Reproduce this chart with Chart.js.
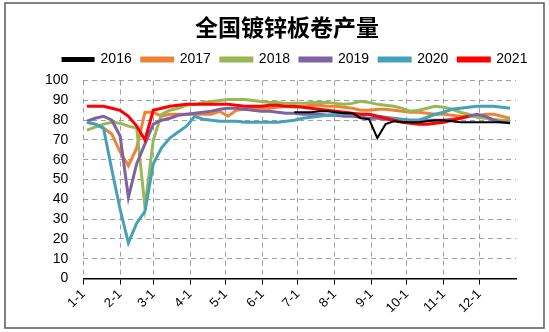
<!DOCTYPE html>
<html>
<head>
<meta charset="utf-8">
<script src="https://cdn.jsdelivr.net/npm/chart.js@4/dist/chart.umd.min.js"></script>
<style>
  html, body { margin: 0; padding: 0; background: #fff; }
  #wrap { width: 549px; height: 332px; position: relative; }
</style>
</head>
<body>
<div id="wrap"><canvas id="zincChart" width="549" height="332"></canvas></div>
<script>
// 周度数据，x 为一年中的第几天
var weekDay = [3, 10, 17, 24, 31, 38, 45, 52, 59, 66, 73, 80, 87, 94, 101, 108, 115, 122, 129, 136,
  143, 150, 157, 164, 171, 178, 185, 192, 199, 206, 213, 220, 227, 234, 241, 248, 255, 262, 269, 276,
  283, 290, 297, 304, 311, 318, 325, 332, 339, 346, 353, 360];

var monthStart = [0, 31, 59, 90, 120, 151, 181, 212, 243, 273, 304, 334];
var monthLabels = ["1-1", "2-1", "3-1", "4-1", "5-1", "6-1", "7-1", "8-1", "9-1", "10-1", "11-1", "12-1"];

var years = ["2016", "2017", "2018", "2019", "2020", "2021"];
var colors = ["#000000", "#EE8336", "#97B954", "#7E62A1", "#45A0BA", "#FF0000"];

var y2016 = [null, null, null, null, null, null, null, null, null, null,
  null, null, null, null, null, null, null, null, null, null,
  null, null, null, null, null, 84, 84, 84, 84.5, 84.5,
  84, 83.5, 83.5, 81, 80.5, 71, 78, 79.5, 79, 79,
  79, 79.5, 80, 80, 79.5, 79, 79, 79, 79, 79,
  79, 78.5];
var y2017 = [79, 78, 76, 73, 64, 57, 66, 84, 84, 82,
  83, 83, 83, 83, 83, 83, 84.5, 82, 85, 85.5,
  86, 86, 86, 86.5, 87, 86.5, 87, 87.5, 87.5, 87,
  87, 86.5, 86, 85, 85, 85.5, 85.5, 85, 84.5, 84,
  84, 83.5, 83, 83, 82.5, 82, 82, 82, 83, 83,
  82, 81];
var y2018 = [75, 76.5, 78, 79, 78.5, 77, 76, 36, 70, 83,
  85, 86, 87.5, 88, 89, 89.5, 90, 90.5, 90.5, 90.5,
  90, 89.5, 89, 89, 88.5, 88.5, 88.5, 89, 89, 89,
  88.5, 88, 88.5, 89.5, 89, 88, 87.5, 87, 86, 84.5,
  85, 86, 87, 86.5, 85.5, 84, 83, 81.5, 81, 80.5,
  80, 80];
var y2019 = [79.5, 81, 82, 80, 72, 41, 58, 68, 78, 80,
  81, 82.5, 83, 83.5, 84, 84.5, 85.5, 86, 86, 85.5,
  85, 84.5, 84.5, 84, 83.5, 83.5, 83, 83, 83, 82.5,
  82.5, 82, 82, 81.5, 81, 81, 80.5, 80, 80, 80,
  80, 80, 80, 80, 80.5, 81, 82, 83, 82, 80,
  79, 79];
var y2020 = [79, 78, 76, 55, 35, 18, 28, 34, 58, 66,
  71, 74, 77, 82, 80.5, 80, 79.5, 79.5, 79.5, 79,
  79, 79, 79, 79, 79.5, 80, 81, 81.5, 82, 82.5,
  83, 83, 83, 83, 83, 82, 81.5, 81, 80.5, 80,
  80, 81.5, 83, 84, 85.5, 86, 86.5, 87, 87, 87,
  86.5, 86];
var y2021 = [87, 87, 87, 86, 85, 82, 77, 70, 85, 86,
  87, 87.5, 88, 88, 88, 88, 88, 88, 87.5, 87,
  87, 87, 87.5, 87.5, 87, 87, 86.5, 86, 85.5, 85,
  84.5, 84, 83.5, 83, 83, 82, 81, 80, 79, 78.5,
  78, 78, 78.5, 79, 80, 81, 82, null, null, null,
  null, null];

var series = [y2016, y2017, y2018, y2019, y2020, y2021];
// 绘制顺序：黑线最上，其次红线
var drawOrder = [0, 5, 4, 3, 2, 1];

function toPoints(values) {
  var pts = [];
  for (var i = 0; i < weekDay.length; i++) {
    pts.push({ x: weekDay[i], y: values[i] });
  }
  return pts;
}

var datasets = [];
for (var k = 0; k < years.length; k++) {
  datasets.push({
    label: years[k],
    data: toPoints(series[k]),
    borderColor: colors[k],
    backgroundColor: colors[k],
    borderWidth: k == 0 ? 2 : 3,
    pointRadius: 0,
    tension: 0,
    fill: false,
    order: drawOrder[k],
  });
}

var framePlugin = {
  id: "frame",
  beforeDraw: function (chart) {
    var c = chart.ctx;
    c.save();
    c.fillStyle = "#fff";
    c.fillRect(0, 0, chart.width, chart.height);
    c.restore();
  },
  // 标题和图例略向右移，居中于绘图区；图例稍上移
  afterLayout: function (chart) {
    chart.legend.left += 22;
    chart.legend.right += 22;
    chart.legend.top -= 4;
    chart.legend.bottom -= 4;
    chart.titleBlock.left += 14;
    chart.titleBlock.right += 14;
  },
  afterDraw: function (chart) {
    var c = chart.ctx;
    c.save();
    c.strokeStyle = "#5a5a5a";
    c.lineWidth = 1.5;
    c.strokeRect(5, 3, 539, 325);
    c.restore();
  },
};

var ctx = document.getElementById("zincChart").getContext("2d");
var zincChart = new Chart(ctx, {
  type: "line",
  data: { datasets: datasets },
  options: {
    responsive: false,
    animation: false,
    layout: { padding: { left: 30, right: 33, top: 13, bottom: 14 } },
    plugins: {
      title: {
        display: true,
        text: "全国镀锌板卷产量",
        color: "#000",
        font: { family: "Noto Sans CJK SC", size: 23, weight: "bold" },
        padding: { top: 0, bottom: 6 },
      },
      legend: {
        display: true,
        labels: {
          boxWidth: 31,
          boxHeight: 3,
          padding: 10,
          color: "#000",
          font: { family: "Liberation Sans", size: 14 },
          sort: function (a, b) { return a.datasetIndex - b.datasetIndex; },
        },
      },
      tooltip: { enabled: false },
    },
    scales: {
      x: {
        type: "linear",
        min: 0,
        max: 365,
        afterBuildTicks: function (scale) {
          scale.ticks = monthStart.map(function (v) { return { value: v }; });
        },
        ticks: {
          minRotation: 45,
          maxRotation: 45,
          autoSkip: false,
          color: "#000",
          padding: 2,
          font: { family: "Liberation Sans", size: 13 },
          callback: function (v) { return monthLabels[monthStart.indexOf(v)]; },
        },
        grid: {
          color: "#a0a0a0",
          lineWidth: 1,
          tickLength: 6,
          tickColor: "#000",
          tickBorderDash: [],
        },
        border: { display: true, color: "#000", width: 1.5, dash: [5, 4] },
      },
      y: {
        min: 0,
        max: 100,
        ticks: {
          stepSize: 10,
          autoSkip: false,
          color: "#000",
          padding: 15,
          font: { family: "Liberation Sans", size: 14 },
        },
        grid: { color: "#a0a0a0", drawTicks: false },
        border: { display: false, dash: [5, 4] },
      },
    },
  },
  plugins: [framePlugin],
});
</script>
</body>
</html>
